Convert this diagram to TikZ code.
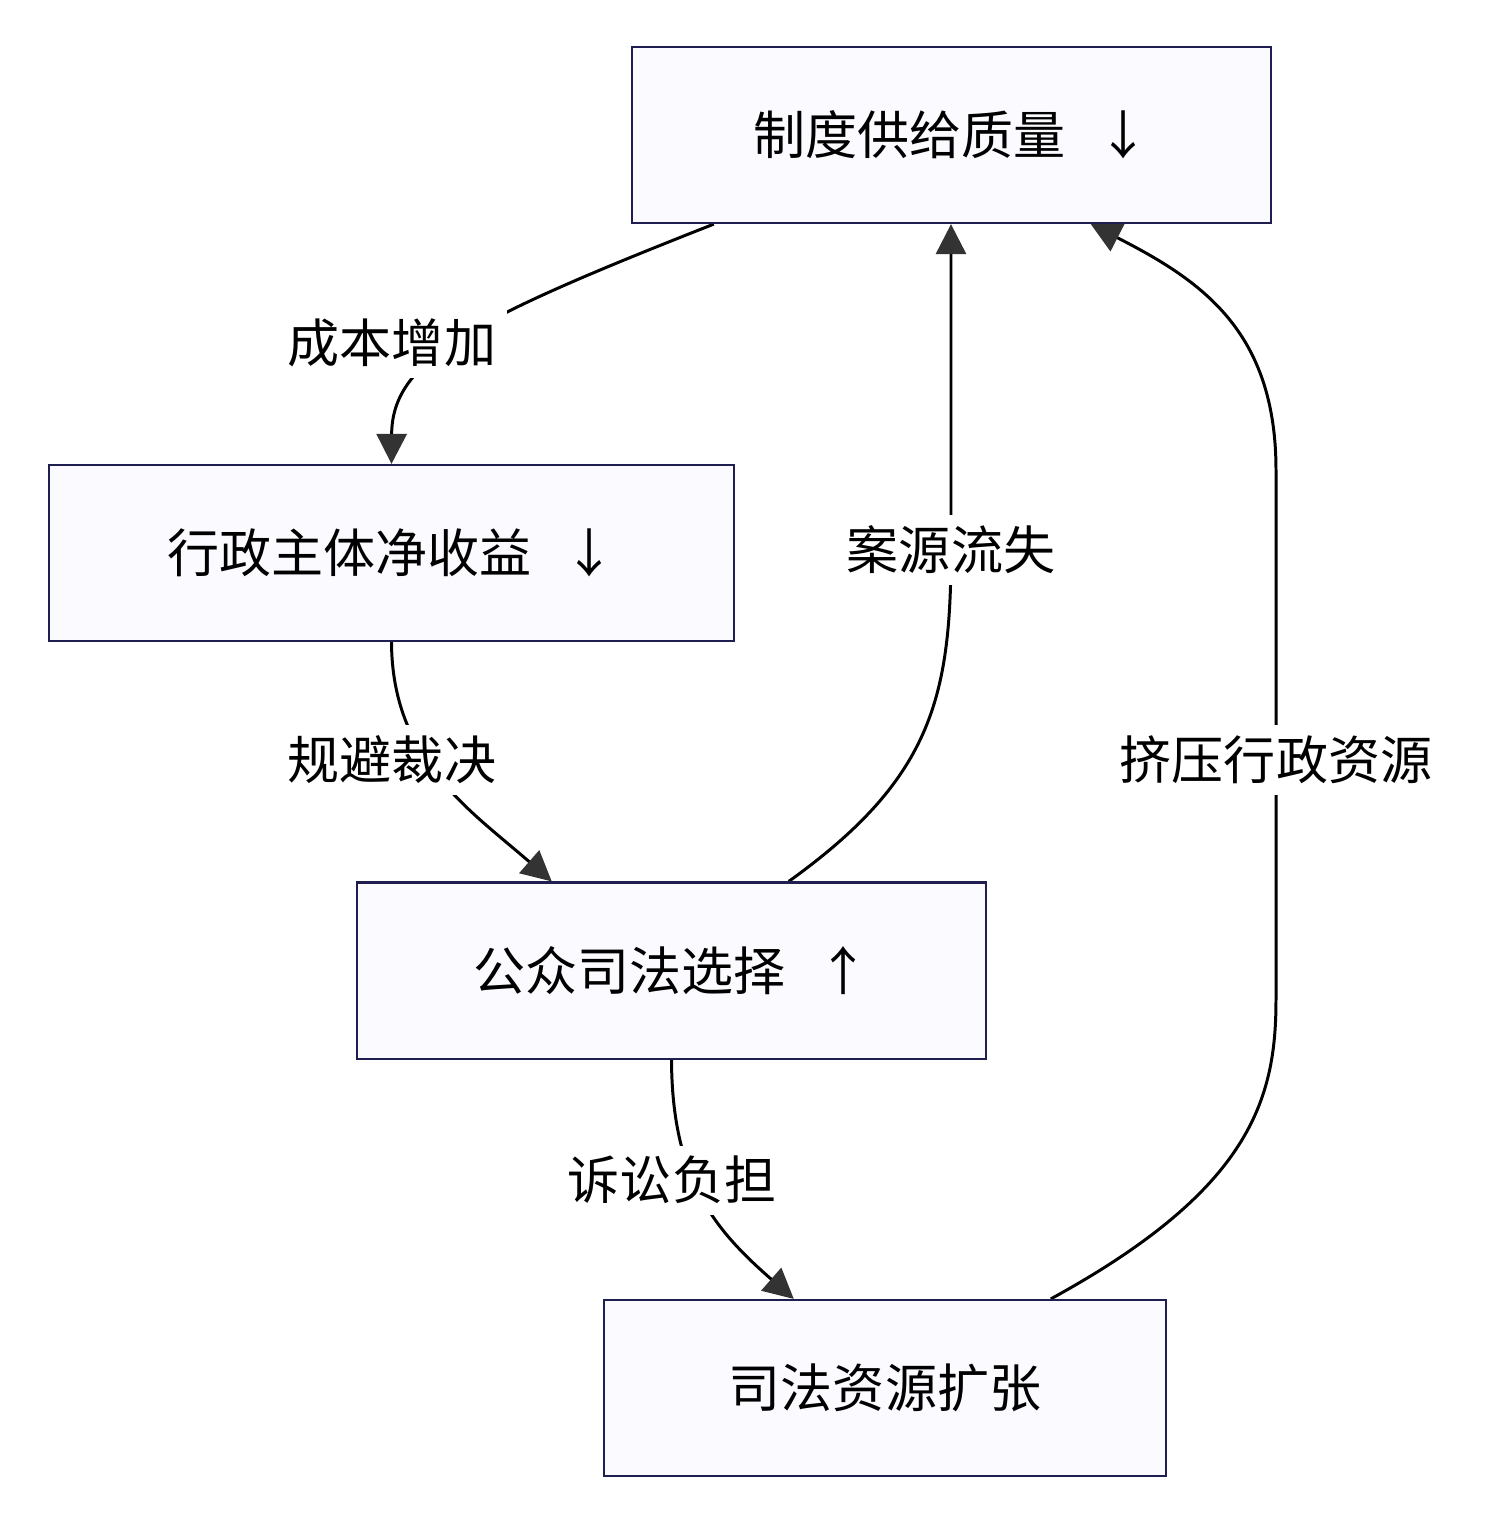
\documentclass[tikz,border=0pt]{standalone}
\usepackage{fontspec}
\setmainfont{Noto Sans CJK SC}
\usetikzlibrary{arrows.meta, calc}

\definecolor{boxline}{RGB}{30,30,80}
\definecolor{boxfill}{RGB}{250,250,255}
\definecolor{tipgray}{RGB}{51,51,51}

\pgfdeclarelayer{paper}
\pgfdeclarelayer{edges}
\pgfsetlayers{paper,edges,main}

\tikzset{
    box/.style={draw=boxline, line width=0.6pt, fill=boxfill, minimum height=1.76cm, inner sep=0pt, font=\fontsize{14.8}{18}\selectfont},
    lab/.style={fill=white, inner sep=3pt, font=\fontsize{14.8}{18}\selectfont},
    flow/.style={line width=0.85pt, -{Triangle[width=0.3cm,length=0.3cm,color=tipgray]}},
}

\begin{document}
\begin{tikzpicture}[x=0.01cm, y=-0.01cm]
        \begin{pgfonlayer}{paper}
        \fill[white] (0,0) rectangle (1493,1526);
        \end{pgfonlayer}
        \useasboundingbox (0,0) rectangle (1493,1526);

        % Draw boxes
        \node[box, minimum width=6.39cm] (quality) at (951.5,135) {制度供给质量\hspace{0.6em}↓};
        \node[box, minimum width=6.85cm] (net) at (391.5,553) {行政主体净收益\hspace{0.6em}↓};
        \node[box, minimum width=6.29cm] (choice) at (671.5,970.5) {公众司法选择\hspace{0.6em}↑};
        \node[box, minimum width=5.62cm] (expand) at (885,1388) {司法资源扩张};

        % Edge labels
        \node[lab] (cost) at (392,343) {成本增加};
        \node[lab] (avoid) at (392,760) {规避裁决};
        \node[lab] (loss) at (951,550) {案源流失};
        \node[lab] (burden) at (672,1180) {诉讼负担};
        \node[lab] (squeeze) at (1276,760) {挤压行政资源};

        % Add arrows behind the labels
        \begin{pgfonlayer}{edges}
        \draw[flow] ($(quality.south west)+(83,0)$) .. controls (470,320) and (392,360) .. (net.north);
        \draw[flow] (net.south) .. controls (392,760) and (470,810) .. ($(choice.north west)+(196,0)$);
        \draw[flow] ($(choice.north west)+(433,0)$) .. controls (930,780) and (951,700) .. (loss.center) -- (loss.center |- quality.south);
        \draw[flow] (choice.south) .. controls (672,1180) and (715,1230) .. ($(expand.north west)+(191,0)$);
        \draw[flow] ($(expand.north west)+(448,0)$) .. controls (1250,1190) and (1276,1100) .. (1276,1000)
            -- (1276,470) .. controls (1276,330) and (1200,280) .. ($(quality.south west)+(460,0)$);
        \end{pgfonlayer}
    \end{tikzpicture}
\end{document}
